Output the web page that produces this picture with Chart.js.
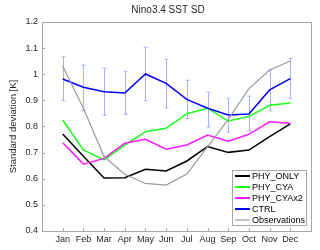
<!DOCTYPE html>
<html>
<head>
<meta charset="utf-8">
<script src="https://cdn.jsdelivr.net/npm/chart.js@4/dist/chart.umd.min.js"></script>
<style>
  html, body { margin: 0; padding: 0; background: #fff; }
  #wrap { width: 320px; height: 250px; }
</style>
</head>
<body>
<div id="wrap"><canvas id="sstChart" width="320" height="250"></canvas></div>
<script>
// Monthly Nino3.4 SST standard deviation [K]
const months = ['Jan', 'Feb', 'Mar', 'Apr', 'May', 'Jun', 'Jul', 'Aug', 'Sep', 'Oct', 'Nov', 'Dec'];
const phyOnly  = [0.771, 0.686, 0.603, 0.604, 0.636, 0.630, 0.668, 0.723, 0.701, 0.710, 0.761, 0.810];
const phyCya   = [0.825, 0.710, 0.672, 0.729, 0.780, 0.793, 0.849, 0.870, 0.821, 0.838, 0.881, 0.890];
const phyCyax2 = [0.738, 0.656, 0.678, 0.736, 0.751, 0.713, 0.729, 0.767, 0.744, 0.770, 0.818, 0.812];
const ctrl     = [0.982, 0.950, 0.933, 0.928, 1.001, 0.965, 0.904, 0.870, 0.844, 0.848, 0.940, 0.983];
const ctrlLow  = [0.899, 0.862, 0.843, 0.847, 0.899, 0.871, 0.830, 0.798, 0.779, 0.783, 0.860, 0.908];
const ctrlHigh = [1.067, 1.035, 1.023, 1.010, 1.103, 1.057, 0.977, 0.931, 0.908, 0.916, 1.016, 1.060];
const observations = [1.032, 0.870, 0.685, 0.617, 0.582, 0.576, 0.618, 0.722, 0.827, 0.945, 1.016, 1.051];
const yTicks = [0.4, 0.5, 0.6, 0.7, 0.8, 0.9, 1.0, 1.1, 1.2];

const FONT = "'Liberation Sans', Arial, Helvetica, sans-serif";
const AXIS_GRAY = '#a6a6a6';

function toPoints(values) {
    return values.map((v, i) => ({ x: i + 1, y: v }));
}

const series = [
    { label: 'PHY_ONLY', data: phyOnly, color: '#000000', width: 1.5, order: 4 },
    { label: 'PHY_CYA', data: phyCya, color: '#19ff19', width: 1.5, order: 3 },
    { label: 'PHY_CYAx2', data: phyCyax2, color: '#ff19ff', width: 1.5, order: 2 },
    { label: 'CTRL', data: ctrl, color: '#0000ff', width: 1.5, order: 1 },
    { label: 'Observations', data: observations, color: '#9a9a9a', width: 1.2, order: 0 }
];

// error bars on CTRL, box, inward ticks, title, y label, legend
const decorPlugin = {
    id: 'decor',
    beforeDatasetsDraw(chart) {
        const ctx = chart.ctx;
        const xs = chart.scales.x, ys = chart.scales.y;
        ctx.save();
        ctx.strokeStyle = '#a9aeff';
        ctx.lineWidth = 1;
        ctrlLow.forEach((lo, i) => {
            const px = Math.round(xs.getPixelForValue(i + 1)) + 0.5;
            const pLo = ys.getPixelForValue(lo);
            const pHi = ys.getPixelForValue(ctrlHigh[i]);
            ctx.beginPath();
            ctx.moveTo(px, pLo); ctx.lineTo(px, pHi);
            ctx.moveTo(px - 2, pLo); ctx.lineTo(px + 2, pLo);
            ctx.moveTo(px - 2, pHi); ctx.lineTo(px + 2, pHi);
            ctx.stroke();
        });
        ctx.restore();
    },
    afterDraw(chart) {
        const ctx = chart.ctx;
        const a = chart.chartArea;
        const xs = chart.scales.x, ys = chart.scales.y;
        ctx.save();

        // box
        ctx.strokeStyle = AXIS_GRAY;
        ctx.lineWidth = 1;
        ctx.strokeRect(Math.round(a.left) + 0.5, Math.round(a.top) + 0.5,
            Math.round(a.right - a.left), Math.round(a.bottom - a.top));

        // inward ticks
        ctx.beginPath();
        yTicks.forEach(v => {
            const py = Math.round(ys.getPixelForValue(v)) + 0.5;
            ctx.moveTo(a.left, py); ctx.lineTo(a.left + 3, py);
        });
        months.forEach((m, i) => {
            const px = Math.round(xs.getPixelForValue(i + 1)) + 0.5;
            ctx.moveTo(px, a.bottom); ctx.lineTo(px, a.bottom - 3);
        });
        ctx.stroke();

        // title
        ctx.fillStyle = '#262626';
        ctx.font = '10px ' + FONT;
        ctx.textAlign = 'center';
        ctx.textBaseline = 'middle';
        ctx.fillText('Nino3.4 SST SD', 168, 10);

        // y axis label
        ctx.save();
        ctx.translate(13, (a.top + a.bottom) / 2);
        ctx.rotate(-Math.PI / 2);
        ctx.font = '9.5px ' + FONT;
        ctx.fillText('Standard deviation [K]', 0, 0);
        ctx.restore();

        // legend inside bottom-right
        const bw = 74, bh = 55;
        const bx = Math.round(a.right) - 5 - bw;
        const by = Math.round(a.bottom) - 6 - bh;
        ctx.fillStyle = '#ffffff';
        ctx.fillRect(bx, by, bw, bh);
        ctx.strokeStyle = AXIS_GRAY;
        ctx.strokeRect(bx + 0.5, by + 0.5, bw, bh);
        ctx.font = '9px ' + FONT;
        ctx.textAlign = 'left';
        series.forEach((s, i) => {
            const ry = by + 6 + i * 11;
            ctx.strokeStyle = s.color;
            ctx.lineWidth = s.label === 'Observations' ? 1.2 : 2;
            ctx.beginPath();
            ctx.moveTo(bx + 3, ry); ctx.lineTo(bx + 18, ry);
            ctx.stroke();
            ctx.fillStyle = '#000000';
            ctx.fillText(s.label, bx + 20, ry + 0.5);
        });
        ctx.restore();
    }
};

new Chart(document.getElementById('sstChart'), {
    type: 'line',
    data: {
        datasets: series.map(s => ({
            label: s.label,
            data: toPoints(s.data),
            borderColor: s.color,
            borderWidth: s.width,
            pointRadius: 0,
            tension: 0,
            fill: false,
            order: s.order
        }))
    },
    options: {
        responsive: false,
        animation: false,
        layout: { padding: { top: 22, right: 9, left: 0, bottom: 0 } },
        plugins: {
            legend: { display: false },
            title: { display: false },
            tooltip: { enabled: false }
        },
        scales: {
            x: {
                type: 'linear',
                min: 0,
                max: 13,
                afterFit: scale => { scale.height = 19; },
                afterBuildTicks: scale => {
                    scale.ticks = months.map((m, i) => ({ value: i + 1 }));
                },
                grid: { display: false, drawTicks: false },
                border: { display: false },
                ticks: {
                    autoSkip: false,
                    maxRotation: 0,
                    padding: 3,
                    color: '#262626',
                    font: { size: 9, family: FONT },
                    callback: v => months[v - 1] || ''
                }
            },
            y: {
                min: 0.4,
                max: 1.2,
                afterFit: scale => { scale.width = 42; },
                afterBuildTicks: scale => {
                    scale.ticks = yTicks.map(v => ({ value: v }));
                },
                grid: { display: false, drawTicks: false },
                border: { display: false },
                ticks: {
                    padding: 4,
                    color: '#262626',
                    font: { size: 9, family: FONT },
                    callback: v => String(Number(v.toFixed(1)))
                }
            }
        }
    },
    plugins: [decorPlugin]
});
</script>
</body>
</html>
